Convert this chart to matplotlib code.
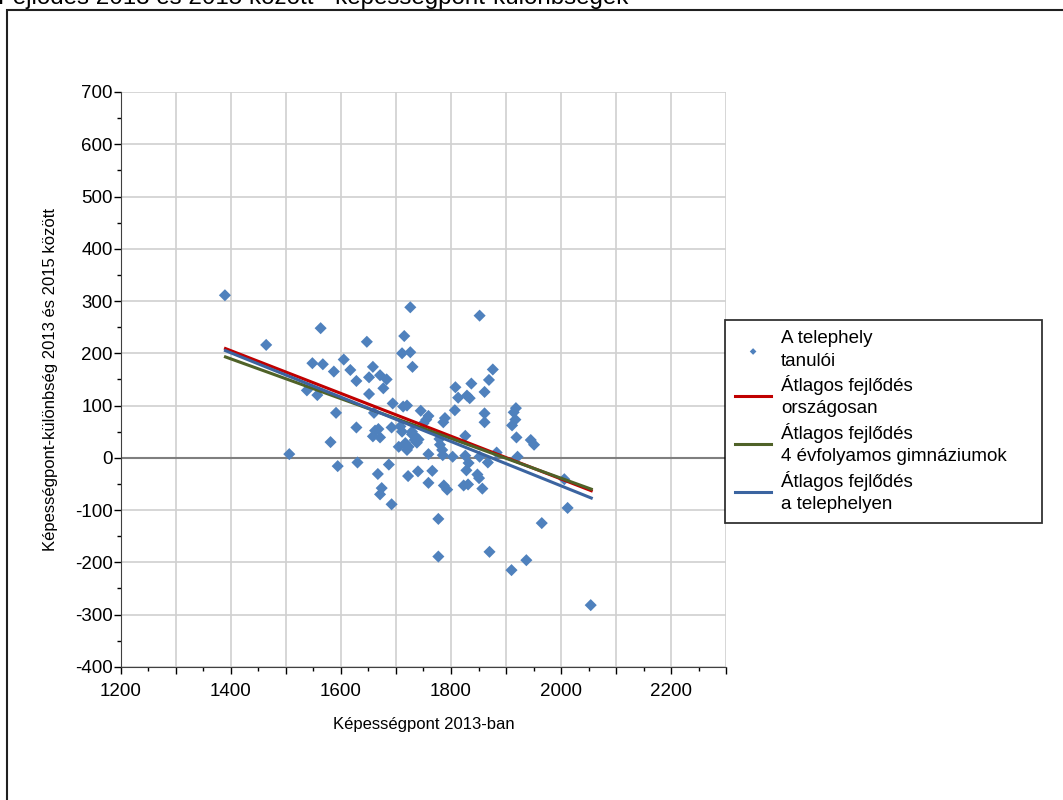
import numpy as np
import matplotlib.pyplot as plt
from matplotlib.patches import Rectangle

plt.rcParams['font.family'] = ['Liberation Sans', 'DejaVu Sans']
plt.rcParams['axes.unicode_minus'] = False

# scatter: score in 2013 vs. change 2013 -> 2015
score_2013 = [
    1389, 1464, 1506, 1538, 1548, 1557, 1563, 1567, 1581, 1587, 1591, 1594,
    1605, 1617, 1628, 1628, 1630, 1647, 1651, 1651, 1658, 1658, 1660, 1662,
    1667, 1668, 1671, 1671, 1671, 1674, 1677, 1683, 1687, 1692, 1692, 1694,
    1705, 1708, 1711, 1711, 1713, 1715, 1717, 1720, 1720, 1722, 1723, 1726,
    1726, 1729, 1729, 1730, 1734, 1735, 1738, 1740, 1741, 1745, 1750, 1755,
    1759, 1759, 1759, 1766, 1777, 1777, 1779, 1780, 1784, 1785, 1786, 1789,
    1787, 1793, 1803, 1807, 1808, 1813, 1823, 1826, 1826, 1828, 1829, 1831,
    1832, 1834, 1837, 1848, 1851, 1852, 1852, 1857, 1861, 1861, 1861, 1867,
    1869, 1870, 1876, 1883, 1910, 1911, 1914, 1917, 1918, 1919, 1921, 1937,
    1945, 1951, 1965, 2006, 2012, 2054,
]
score_diff = [
    311, 216, 7, 129, 181, 120, 248, 179, 30, 165, 86, -16,
    188, 168, 147, 58, -9, 222, 154, 122, 174, 41, 86, 52,
    -31, 55, 158, 39, -70, -58, 133, 150, -13, 58, -89, 104,
    21, 60, 200, 50, 98, 233, 28, 100, 15, -35, 21, 288,
    202, 50, 45, 174, 34, 41, 29, -26, 35, 90, 66, 73,
    80, 7, -48, -25, -117, -189, 36, 25, 15, 5, 68, 76,
    -53, -61, 2, 91, 135, 115, -53, 42, 4, -24, 119, -51,
    -10, 114, 142, -32, -39, 272, 2, -59, 126, 85, 68, -9,
    149, -180, 169, 10, -215, 62, 87, 73, 95, 39, 2, -196,
    34, 25, -125, -41, -96, -282,
]

# trend lines (start / end)
line_x = [1390, 2055]
line_national = [209, -63]
line_gimn = [193, -60]
line_site = [205, -77]

labels = [
    'A telephely\ntanulói',
    'Átlagos fejlődés\nországosan',
    'Átlagos fejlődés\n4 évfolyamos gimnáziumok',
    'Átlagos fejlődés\na telephelyen',
]

fig = plt.figure(figsize=(10.63, 8), dpi=100)
ax = fig.add_axes([0.1138, 0.1665, 0.5692, 0.7185])

ax.scatter(score_2013, score_diff, marker='D', s=38, color='#4F81BD',
           edgecolors='none', zorder=3, label=labels[0])
ax.plot(line_x, line_national, color='#C00000', lw=2.2, zorder=4, label=labels[1])
ax.plot(line_x, line_gimn, color='#4F6228', lw=2.2, zorder=4, label=labels[2])
ax.plot(line_x, line_site, color='#3B64A0', lw=2.2, zorder=4, label=labels[3])

ax.axhline(0, color='#7F7F7F', lw=1.5, zorder=2)

ax.set_xlim(1200, 2300)
ax.set_ylim(-400, 700)
xt = np.arange(1200, 2301, 100)
ax.set_xticks(xt)
ax.set_xticklabels([str(v) if v % 200 == 0 else '' for v in xt])
ax.set_xticks(np.arange(1250, 2300, 100), minor=True)
ax.set_yticks(np.arange(-400, 701, 100))
ax.set_yticks(np.arange(-350, 700, 100), minor=True)
ax.tick_params(axis='both', which='major', labelsize=13.5, length=5, width=1, direction='out')
ax.tick_params(axis='both', which='minor', length=3, width=1, direction='out')
ax.tick_params(axis='y', which='major', pad=1)
ax.tick_params(axis='x', which='major', pad=7)
ax.grid(True, which='major', color='#D0D0D0', lw=1.2, zorder=0)
ax.set_axisbelow(True)
for s in ['top', 'right']:
    ax.spines[s].set_visible(False)
for s in ['left', 'bottom']:
    ax.spines[s].set_color('#404040')

ax.set_xlabel('Képességpont 2013-ban', fontsize=12, labelpad=12)
ax.set_ylabel('Képességpont-különbség 2013 és 2015 között', fontsize=12, labelpad=12)

leg = fig.legend(loc='upper left', bbox_to_anchor=(0.682, 0.35, 0.298, 0.25),
                 mode='expand', fontsize=13.5,
                 frameon=True, fancybox=False, edgecolor='black', markerscale=0.55,
                 handlelength=1.9, handletextpad=0.55, labelspacing=0.3,
                 borderpad=0.55, borderaxespad=0)
leg.get_frame().set_linewidth(1.3)
for t in leg.get_texts():
    t.set_linespacing(1.4)

# outer frame and clipped title
fig.patches.append(Rectangle((7 / 1063, -0.02), 1.05, 0.9875 + 0.02,
                             transform=fig.transFigure, fill=False,
                             edgecolor='#202020', lw=1.5))
fig.text(-2 / 1063, 1 - 4 / 800, 'Fejlődés 2013 és 2015 között - képességpont-különbségek',
         fontsize=17.4, va='baseline', ha='left')

fig.savefig('out.png', dpi=100)
